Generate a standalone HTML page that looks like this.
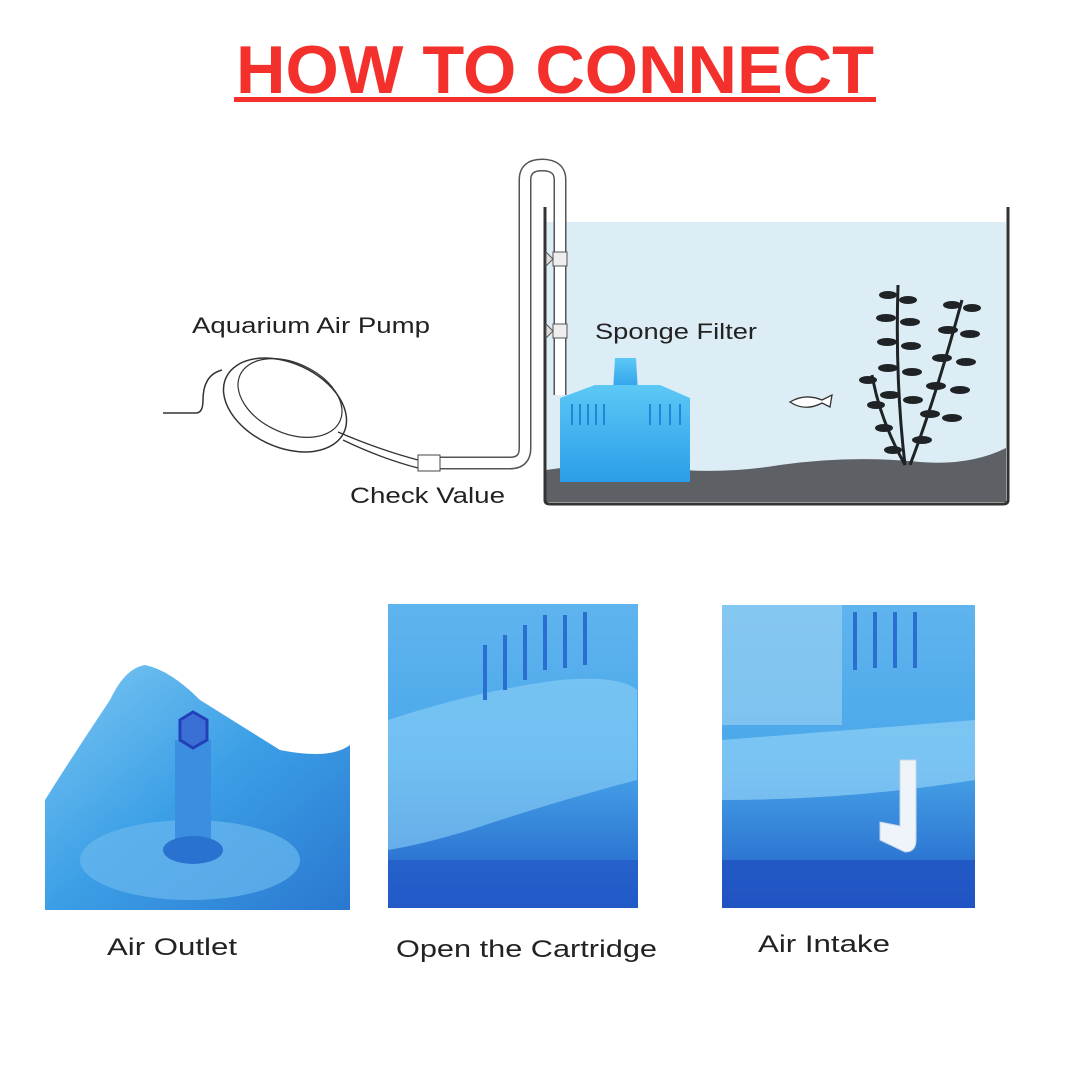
<!DOCTYPE html>
<html><head><meta charset="utf-8"><style>
html,body{margin:0;padding:0;background:#fff;}
svg{display:block}
</style></head><body>
<svg width="1080" height="1080" viewBox="0 0 1080 1080" xmlns="http://www.w3.org/2000/svg" font-family="Liberation Sans, sans-serif">
<defs>
<linearGradient id="b1" x1="0" y1="0" x2="1" y2="1"><stop offset="0" stop-color="#7cc8f2"/><stop offset="0.5" stop-color="#3c9fe6"/><stop offset="1" stop-color="#2a78d0"/></linearGradient>
<linearGradient id="b2" x1="0" y1="0" x2="0" y2="1"><stop offset="0" stop-color="#5fb4ee"/><stop offset="0.5" stop-color="#4aa8ea"/><stop offset="1" stop-color="#1f5fc8"/></linearGradient>
<linearGradient id="fl" x1="0" y1="0" x2="0" y2="1"><stop offset="0" stop-color="#5cc8f5"/><stop offset="1" stop-color="#2a9ee8"/></linearGradient>
</defs>
<!-- title -->
<text x="236" y="93" textLength="638" lengthAdjust="spacingAndGlyphs" font-size="68" font-weight="bold" fill="#f3302b">HOW TO CONNECT</text>
<rect x="234" y="97" width="642" height="5" fill="#f3302b"/>

<!-- tank -->
<rect x="546" y="222" width="460" height="280" fill="#ddedf6"/>
<path d="M546 470 Q600 462 660 468 Q720 475 780 465 Q850 455 920 462 Q970 466 1006 448 L1006 502 L546 502 Z" fill="#5d6065"/>
<path d="M545 207 L545 500 Q545 504 550 504 L1003 504 Q1008 504 1008 500 L1008 207" fill="none" stroke="#333" stroke-width="3"/>

<!-- tube -->
<path d="M420 463 L510 463 Q525 463 525 448 L525 180 Q525 165 542 165 Q560 165 560 180 L560 395" fill="none" stroke="#555" stroke-width="13"/>
<path d="M420 463 L510 463 Q525 463 525 448 L525 180 Q525 165 542 165 Q560 165 560 180 L560 395" fill="none" stroke="#fff" stroke-width="10"/>
<rect x="553" y="252" width="14" height="14" fill="#eee" stroke="#555"/>
<rect x="553" y="324" width="14" height="14" fill="#eee" stroke="#555"/>
<path d="M553 259 L546 252 L546 266 Z M553 331 L546 324 L546 338 Z" fill="#ddd" stroke="#555"/>

<!-- pump -->
<path d="M163 413 L196 413 Q203 413 203 400 Q203 375 222 370" fill="none" stroke="#333" stroke-width="1.5"/>
<ellipse cx="285" cy="405" rx="65" ry="42" transform="rotate(25 285 405)" fill="#fff" stroke="#333" stroke-width="1.5"/>
<ellipse cx="290" cy="398" rx="55" ry="35" transform="rotate(25 290 398)" fill="none" stroke="#333" stroke-width="1.2"/>
<path d="M338 432 Q380 450 418 460 M343 440 Q380 458 418 468" fill="none" stroke="#333" stroke-width="1.3"/>
<rect x="418" y="455" width="22" height="16" fill="#fff" stroke="#444"/>
<text x="192" y="333" textLength="238" lengthAdjust="spacingAndGlyphs" font-size="22" fill="#222">Aquarium Air Pump</text>
<text x="350" y="503" textLength="155" lengthAdjust="spacingAndGlyphs" font-size="22" fill="#222">Check Value</text>
<text x="595" y="339" textLength="162" lengthAdjust="spacingAndGlyphs" font-size="22" fill="#222">Sponge Filter</text>

<!-- sponge filter -->
<path d="M615 358 L636 358 L638 392 L613 392 Z" fill="url(#fl)"/>
<path d="M560 398 L595 385 L660 385 L690 398 L690 482 L560 482 Z" fill="url(#fl)"/>
<g stroke="#1f86d8" stroke-width="2">
<line x1="572" y1="404" x2="572" y2="425"/><line x1="580" y1="404" x2="580" y2="425"/><line x1="588" y1="404" x2="588" y2="425"/><line x1="596" y1="404" x2="596" y2="425"/><line x1="604" y1="404" x2="604" y2="425"/><line x1="650" y1="404" x2="650" y2="425"/><line x1="660" y1="404" x2="660" y2="425"/><line x1="670" y1="404" x2="670" y2="425"/><line x1="680" y1="404" x2="680" y2="425"/>
</g>

<!-- fish -->
<path d="M790 402 Q805 393 822 400 L832 395 L830 407 L822 403 Q805 412 790 402 Z" fill="#fff" stroke="#333" stroke-width="1.3"/>

<!-- plants -->
<g stroke="#1f2326" stroke-width="3" fill="none">
<path d="M905 465 Q895 380 898 285"/><path d="M910 465 Q935 400 962 300"/><path d="M905 465 Q880 420 872 375"/>
</g>
<g fill="#1f2326">
<ellipse cx="888" cy="295" rx="9" ry="4"/><ellipse cx="908" cy="300" rx="9" ry="4"/><ellipse cx="886" cy="318" rx="10" ry="4"/><ellipse cx="910" cy="322" rx="10" ry="4"/><ellipse cx="887" cy="342" rx="10" ry="4"/><ellipse cx="911" cy="346" rx="10" ry="4"/><ellipse cx="888" cy="368" rx="10" ry="4"/><ellipse cx="912" cy="372" rx="10" ry="4"/><ellipse cx="890" cy="395" rx="10" ry="4"/><ellipse cx="913" cy="400" rx="10" ry="4"/>
<ellipse cx="952" cy="305" rx="9" ry="4"/><ellipse cx="972" cy="308" rx="9" ry="4"/><ellipse cx="948" cy="330" rx="10" ry="4"/><ellipse cx="970" cy="334" rx="10" ry="4"/><ellipse cx="942" cy="358" rx="10" ry="4"/><ellipse cx="966" cy="362" rx="10" ry="4"/><ellipse cx="936" cy="386" rx="10" ry="4"/><ellipse cx="960" cy="390" rx="10" ry="4"/><ellipse cx="930" cy="414" rx="10" ry="4"/><ellipse cx="952" cy="418" rx="10" ry="4"/><ellipse cx="922" cy="440" rx="10" ry="4"/>
<ellipse cx="868" cy="380" rx="9" ry="4"/><ellipse cx="876" cy="405" rx="9" ry="4"/><ellipse cx="884" cy="428" rx="9" ry="4"/><ellipse cx="893" cy="450" rx="9" ry="4"/>
</g>

<!-- photo 1 -->
<path d="M45 910 L45 800 Q70 760 110 700 Q125 668 145 665 Q170 670 200 700 L280 750 Q330 760 350 745 L350 910 Z" fill="url(#b1)"/>
<ellipse cx="190" cy="860" rx="110" ry="40" fill="#6ab8ee" opacity="0.7"/>
<rect x="175" y="740" width="36" height="110" fill="#3c8fe0"/>
<ellipse cx="193" cy="850" rx="30" ry="14" fill="#2a72cf"/>
<polygon points="180,720 193,712 207,720 207,740 193,748 180,740" fill="#3a6fd6" stroke="#2440b8" stroke-width="3"/>

<!-- photo 2 -->
<rect x="388" y="604" width="250" height="304" fill="url(#b2)"/>
<path d="M388 720 Q480 690 560 680 Q620 675 637 690 L637 780 Q560 800 470 830 Q420 845 388 850 Z" fill="#8cd0f6" opacity="0.6"/>
<g stroke="#2a6fd0" stroke-width="4">
<line x1="545" y1="615" x2="545" y2="670"/><line x1="565" y1="615" x2="565" y2="668"/><line x1="585" y1="612" x2="585" y2="665"/><line x1="525" y1="625" x2="525" y2="680"/><line x1="505" y1="635" x2="505" y2="690"/><line x1="485" y1="645" x2="485" y2="700"/>
</g>
<rect x="388" y="860" width="250" height="48" fill="#2458c8" opacity="0.7"/>

<!-- photo 3 -->
<rect x="722" y="605" width="253" height="303" fill="url(#b2)"/>
<rect x="722" y="605" width="120" height="120" fill="#9fd4f4" opacity="0.6"/>
<path d="M722 740 Q850 730 975 720 L975 780 Q850 800 722 800 Z" fill="#8fd0f6" opacity="0.7"/>
<g stroke="#2a6fd0" stroke-width="4">
<line x1="855" y1="612" x2="855" y2="670"/><line x1="875" y1="612" x2="875" y2="668"/><line x1="895" y1="612" x2="895" y2="668"/><line x1="915" y1="612" x2="915" y2="668"/>
</g>
<rect x="722" y="860" width="253" height="48" fill="#2050c0" opacity="0.75"/>
<path d="M900 760 L916 760 L916 840 Q916 852 905 852 L880 840 L880 822 L900 826 Z" fill="#eef4fa" stroke="#c8d6e4"/>

<!-- labels -->
<text x="107" y="955" textLength="130" lengthAdjust="spacingAndGlyphs" font-size="24" fill="#222">Air Outlet</text>
<text x="396" y="957" textLength="261" lengthAdjust="spacingAndGlyphs" font-size="24" fill="#222">Open the Cartridge</text>
<text x="758" y="952" textLength="132" lengthAdjust="spacingAndGlyphs" font-size="24" fill="#222">Air Intake</text>
</svg>
</body></html>
